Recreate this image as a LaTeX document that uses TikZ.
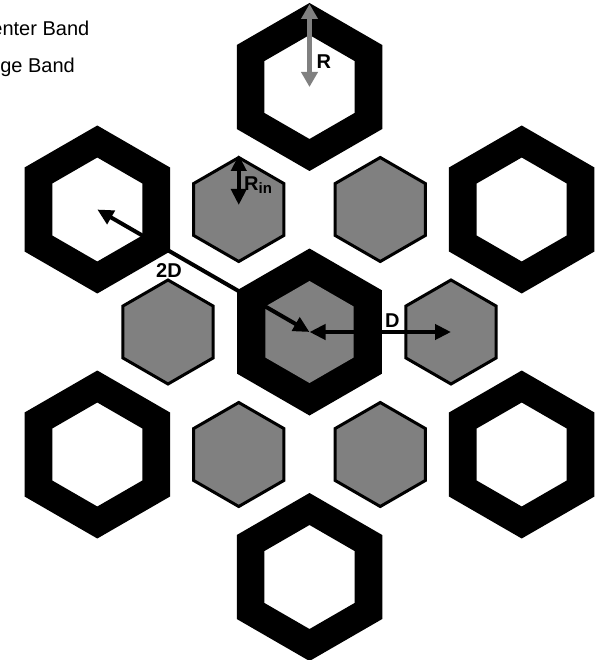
\documentclass[tikz,border=0pt]{standalone}
\usepackage{fontspec}
\setmainfont{Liberation Sans}
\usetikzlibrary{arrows.meta}
\definecolor{bandgray}{HTML}{808080}
\newcommand{\hexat}[2]{([shift={(90:#2)}]#1) -- ([shift={(150:#2)}]#1) -- ([shift={(210:#2)}]#1) -- ([shift={(270:#2)}]#1) -- ([shift={(330:#2)}]#1) -- ([shift={(30:#2)}]#1) -- cycle}
\tikzset{
  legendtext/.style={inner sep=0pt, font=\fontsize{20}{24}\selectfont},
  dimlabel/.style={inner sep=0pt, font=\fontsize{20}{24}\selectfont\bfseries},
  dimarrow/.style={line width=4pt, {Triangle[length=16pt,width=15pt]}-{Triangle[length=16pt,width=15pt]}},
  grayarrow/.style={dimarrow, draw=bandgray, fill=bandgray, line width=5pt, {Triangle[length=15pt,width=16pt]}-{Triangle[length=15pt,width=16pt]}},
  grayhex/.style={fill=bandgray, draw=black, line width=3pt, line join=miter},
}
\begin{document}
\begin{tikzpicture}[x=1pt,y=-1pt]
\clip (0,0) rectangle (603,660);
\fill[white] (0,0) rectangle (603,660);
% centres
\coordinate (c0) at (309.5,332);
\coordinate (otop) at (309.5,87);
\coordinate (obot) at (309.5,577);
\coordinate (oul) at (97.3,209.5);
\coordinate (our) at (521.7,209.5);
\coordinate (oll) at (97.3,454.5);
\coordinate (olr) at (521.7,454.5);
\coordinate (gr) at (451,332);
\coordinate (gl) at (168,332);
\coordinate (gul) at (238.75,209.5);
\coordinate (gur) at (380.25,209.5);
\coordinate (gll) at (238.75,454.5);
\coordinate (glr) at (380.25,454.5);
% edge band hexagons
\foreach \c in {otop,obot,oul,our,oll,olr}{
  \fill[black, even odd rule] \hexat{\c}{84pt} \hexat{\c}{52pt};
}
% centre hexagon
\fill[black] \hexat{c0}{83.5pt};
\fill[bandgray] \hexat{c0}{51pt};
% centre band hexagons
\foreach \c in {gr,gl,gul,gur,gll,glr}{
  \filldraw[grayhex] \hexat{\c}{52pt};
}
% legend
\node[legendtext, anchor=base east] (lc) at (89.5,36) {Center Band};
\node[legendtext, anchor=base east] (le) at (75,73) {Edge Band};
% R arrow
\coordinate (rtop) at (309.5,4);
\draw[grayarrow] (rtop) -- (otop);
\node[dimlabel, anchor=base west] (lR) at (316.5,69) {R};
% R_in arrow
\coordinate (rintop) at (238.75,155);
\coordinate (rinbot) at (238.75,205);
\draw[dimarrow] (rintop) -- (rinbot);
\node[dimlabel, anchor=base west] (lRin) at (244,190) {R\raisebox{-0.3ex}{\fontsize{15}{18}\selectfont in}};
% 2D arrow
\draw[dimarrow] (c0) -- (oul);
\node[dimlabel, anchor=base west] (l2D) at (156,277) {2D};
% D arrow
\draw[dimarrow] (c0) -- (gr);
\node[dimlabel, anchor=base west] (lD) at (385,327) {D};
\end{tikzpicture}
\end{document}
